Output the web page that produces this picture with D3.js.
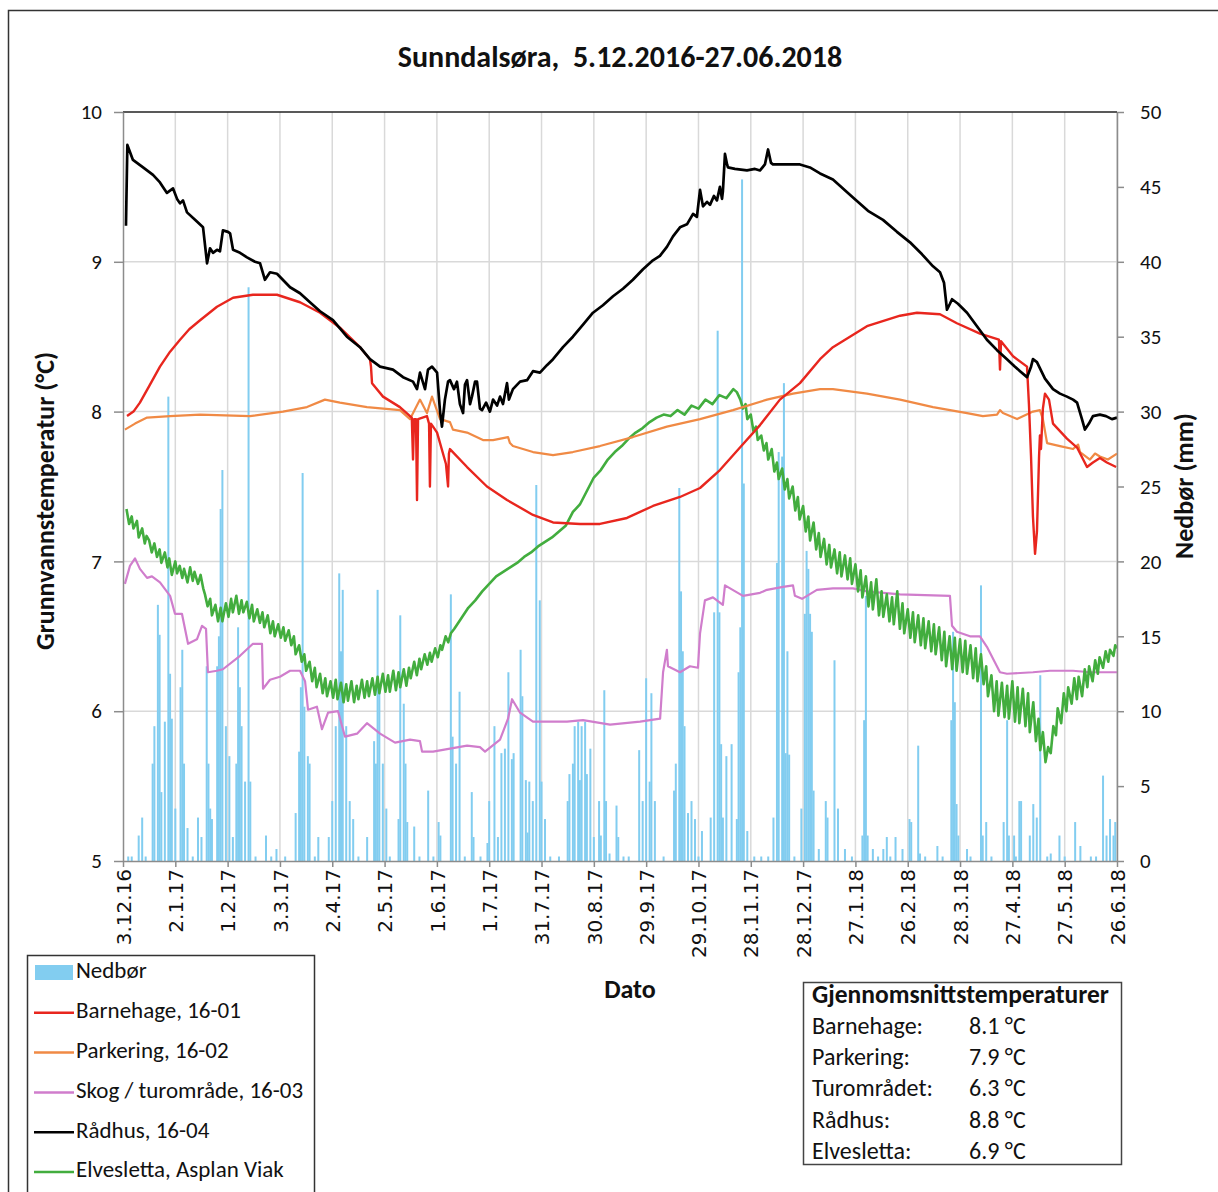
<!DOCTYPE html>
<html>
<head>
<meta charset="utf-8">
<script src="https://cdn.jsdelivr.net/npm/d3@7"></script>
<style>
  html, body { margin: 0; padding: 0; background: #ffffff; }
  svg { display: block; }
  text { font-family: Carlito, Lato, "Open Sans", sans-serif; fill: #111; }
</style>
</head>
<body>
<svg id="chart" width="1218" height="1192"></svg>
<script>
// ---------- DATA (day index counted from 3.12.2016) ----------
const tickLabels = ["3.12.16","2.1.17","1.2.17","3.3.17","2.4.17","2.5.17","1.6.17","1.7.17","31.7.17","30.8.17","29.9.17","29.10.17","28.11.17","28.12.17","27.1.18","26.2.18","28.3.18","27.4.18","27.5.18","26.6.18"];
const tempTicks = [5, 6, 7, 8, 9, 10];
const precipTicks = [0, 5, 10, 15, 20, 25, 30, 35, 40, 45, 50];

// Nedbør (mm) – [day, mm]
const nedbor = [
 [3,0.3],[5,0.3],[9,1.7],[11,2.9],[13,0.3],[17,6.5],[18,9],[20,17.1],[21,15.1],[22,4.6],[24,9.3],[26,31],[27,12.5],[28,9.5],[30,3.5],
 [33,11.6],[34,14.1],[35,6.5],[37,2.2],[40,0.3],[43,2.9],[45,1.6],[48,13],[49,6.5],[50,3.5],[51,2.8],[54,13],[55,15],[56,23.5],[57,26.1],
 [59,9],[61,7],[63,1.6],[65,6.5],[66,15.6],[67,11.6],[68,9],[70,5.3],[72,38.3],[73,5.3],[76,0.3],[82,1.7],[85,0.3],[88,0.8],[93,0.3],
 [99,3.2],[101,7.3],[102,11.6],[103,25.9],[104,10.3],[106,7],[107,6.5],[110,0.3],[112,1.6],[118,1.6],[120,4],[122,9],[124,19.2],[125,14],
 [126,18.1],[128,9],[130,4],[132,2.8],[135,0.3],[140,1.6],[144,8],[145,6.5],[146,18.1],[147,11.6],[149,6.5],[151,3.5],[153,0.3],[158,2.8],
 [159,16.4],[161,10.5],[162,6.5],[163,2.6],[167,2.3],[170,0.3],[175,4.7],[178,0.3],[181,2.6],[182,1.7],[188,17.8],[189,8.3],[191,6.5],
 [193,11.3],[196,0.3],[200,4.6],[201,1.6],[205,0.3],[209,1.2],[210,4],[213,9],[215,1.6],[217,7.2],[219,7.5],[221,12.6],[223,6.8],[224,7.2],
 [228,14.1],[229,11],[231,5.4],[232,1.9],[233,5.3],[235,4],[237,25.1],[239,17.4],[240,5.3],[242,2.8],[245,0.3],[250,0.3],[255,4],[256,5.8],
 [258,6.5],[259,9],[261,9.3],[262,5.4],[263,9],[265,9.3],[266,5.8],[268,7.5],[270,1.6],[273,4],[274,1.7],[276,11.4],[277,4],[279,0.5],
 [283,3.7],[284,1.6],[287,0.3],[290,0.3],[296,7.4],[298,4],[300,12.2],[302,5.3],[303,11.2],[305,4],[310,0.3],[316,4.7],[317,6.5],[319,24.9],
 [320,18],[321,14],[322,9],[324,3.2],[326,4],[328,2.8],[330,0.3],[332,2],[337,2.9],[339,16.6],[341,35.4],[342,16.6],[343,7.8],[344,2.9],
 [346,7],[349,7.8],[352,2.8],[353,12.6],[354,15.6],[355,45.5],[356,25.2],[358,2],[362,0.3],[366,0.3],[370,0.3],[373,2.9],[375,19.9],
 [376,27.3],[378,27],[379,31.9],[380,7.2],[381,14],[382,7.1],[385,0.3],[389,3.5],[391,16.5],[392,20.7],[393,19.5],[394,16.5],[395,15.3],
 [396,4.7],[399,0.8],[403,4],[404,2.9],[408,13.4],[410,3.5],[414,0.8],[418,0.3],[424,1.7],[425,9.4],[426,17.7],[427,1.7],[430,0.8],
 [433,0.3],[436,0.8],[438,1.6],[440,0.3],[443,1.6],[447,0.8],[451,2.8],[452,2.6],[456,7.7],[457,0.5],[460,0.3],[467,1],[470,0.3],
 [475,9.4],[476,15.3],[477,10.6],[478,3.8],[479,1.7],[484,0.8],[486,0.3],[492,18.4],[493,1.7],[495,2.6],[498,0.3],[505,2.6],[507,9.4],
 [508,1.7],[511,1.7],[512,0.3],[514,4],[515,4],[520,1.7],[522,3.8],[524,2.9],[526,12.4],[530,0.3],[532,0.5],[537,1.7],[540,0.3],
 [546,2.6],[549,1],[555,0.3],[558,0.3],[562,5.7],[564,1.7],[566,2.8],[568,1.7],[569,2.6]
];

// Barnehage, 16-01
const barnehage = [
 [2.3,7.97],[6,8.0],[9.7,8.06],[15,8.17],[21.2,8.3],[27,8.4],[32.7,8.48],[38,8.55],[44.2,8.61],[53.9,8.7],[63.1,8.76],[74.5,8.78],[88.3,8.78],[101.5,8.73],[113,8.66],
 [124.4,8.56],[135.9,8.43],[141.6,8.35],[142.2,8.3],[142.8,8.19],[149.1,8.1],[158.8,8.03],[164.6,7.97],[165.6,7.96],[166.3,7.68],
 [166.9,7.95],[168,7.95],[168.6,7.41],[169.2,7.95],[174.3,7.97],[175.5,7.92],[176,7.5],[176.6,7.92],[177.8,7.9],[180.1,7.86],
 [185.2,7.65],[186.4,7.5],[186.9,7.72],[187.5,7.75],[197.3,7.63],[208.7,7.5],[220.2,7.41],[235.1,7.31],[246.6,7.26],[262.1,7.25],
 [273.5,7.25],[289,7.29],[303.9,7.37],[319.4,7.43],[330.9,7.49],[342.3,7.61],[353.8,7.76],[365.3,7.91],[376.7,8.08],[388.2,8.19],
 [399.7,8.35],[407.1,8.43],[426.6,8.57],[445.6,8.64],[455.3,8.66],[468.5,8.65],[478.2,8.59],[491.4,8.52],[502.3,8.48],[502.9,8.28],
 [503.5,8.47],[510.4,8.37],[518.4,8.3],[519.5,8.05],[520.7,7.7],[521.8,7.3],[523,7.05],[524.1,7.2],[525.3,7.7],[525.8,7.84],
 [526.4,7.75],[527.5,8.02],[528.7,8.12],[531,8.08],[533.3,7.92],[541.3,7.82],[547.1,7.76],[552.8,7.63],[556.2,7.66],[560.2,7.69],
 [564.2,7.66],[569.5,7.63]
];

// Parkering, 16-02
const parkering = [
 [1.1,7.88],[6.9,7.92],[13.8,7.96],[27,7.97],[44.2,7.98],[72.8,7.97],[91.7,8.0],[105.5,8.03],[115.8,8.08],[124.4,8.06],[139.9,8.03],
 [158.8,8.01],[164.6,7.95],[170.3,8.08],[174.3,7.99],[177.2,8.1],[181.8,7.95],[187.5,7.93],[189.2,7.88],[197.3,7.86],[206.4,7.81],
 [212.2,7.81],[220.8,7.83],[221.9,7.79],[223.6,7.77],[235.1,7.73],[246.6,7.71],[258,7.73],[273.5,7.77],[292.4,7.83],[311.9,7.9],
 [330.9,7.95],[349.8,8.01],[369.3,8.08],[384.2,8.12],[399.7,8.15],[407.1,8.15],[426.6,8.12],[445.6,8.08],[464.5,8.03],[484,7.99],
 [493.1,7.97],[501.2,7.98],[502.9,8.01],[504.6,7.99],[512.7,7.95],[521.8,8.0],[525.8,8.01],[527.5,7.95],[529.9,7.79],[537.3,7.77],
 [544.8,7.75],[547.7,7.78],[548.8,7.73],[554.5,7.68],[557.4,7.72],[560.2,7.7],[564.8,7.68],[570,7.72]
];

// Skog / turområde, 16-03
const skog = [
 [1.1,6.85],[4,6.97],[6.9,7.02],[9.7,6.95],[13.8,6.89],[16.6,6.9],[21.2,6.86],[27,6.77],[29.8,6.65],[33.8,6.65],[37.3,6.45],
 [42.4,6.48],[45.3,6.57],[47.6,6.55],[48.7,6.26],[53.9,6.27],[57.3,6.28],[67.1,6.37],[74.5,6.45],[79.7,6.45],[80.3,6.15],[84.3,6.21],
 [90,6.23],[95.8,6.27],[101.5,6.27],[104.4,6.2],[106.1,6.01],[111.2,6.03],[114.1,5.88],[117.6,5.99],[123.3,6.0],[127.3,5.83],
 [134.2,5.85],[139.9,5.92],[147.4,5.85],[156,5.79],[164.6,5.81],[170.3,5.8],[171.5,5.73],[177.8,5.73],[187.5,5.75],[197.3,5.77],
 [204.7,5.76],[207.6,5.73],[216.2,5.81],[220.8,5.95],[223.1,6.08],[227.7,5.99],[235.1,5.93],[254.6,5.93],[263.8,5.94],[279.3,5.91],
 [296.5,5.93],[308,5.95],[309.7,6.26],[311.9,6.41],[312.5,6.3],[319.4,6.26],[325.1,6.3],[329.7,6.29],[330.9,6.52],[333.7,6.74],
 [338.3,6.76],[344,6.71],[345.2,6.84],[355.5,6.77],[365.3,6.79],[369.3,6.81],[378.5,6.83],[384.2,6.84],[385.3,6.77],[389.4,6.75],
 [397.9,6.81],[407.1,6.82],[418.6,6.82],[426.6,6.8],[445.6,6.78],[474.2,6.77],[475.4,6.57],[478.2,6.53],[485.7,6.5],[491.4,6.5],
 [495.4,6.43],[502.9,6.26],[506.9,6.25],[521.8,6.26],[531.6,6.27],[544.8,6.27],[554.5,6.26],[570,6.26]
];

// Rådhus, 16-04
const radhus = [
 [1.7,9.24],[2.5,9.78],[5.7,9.68],[11.5,9.63],[17.2,9.58],[21.2,9.53],[22.9,9.5],[25.2,9.46],[28.7,9.49],[31,9.42],[32.7,9.39],
 [34.4,9.41],[36.7,9.33],[41.3,9.28],[45.9,9.23],[48.2,8.99],[49.9,9.09],[51.6,9.06],[53.9,9.08],[55.6,9.07],[57.3,9.21],[60.2,9.2],
 [61.4,9.19],[63.1,9.08],[67.1,9.06],[71.1,9.03],[75.7,9.0],[78.6,8.99],[81.4,8.88],[84.3,8.93],[88.3,8.92],[95.8,8.83],[101.5,8.79],
 [107.2,8.73],[113,8.67],[120.4,8.61],[128.4,8.5],[135.9,8.43],[141.6,8.35],[147.4,8.3],[154.8,8.28],[160.6,8.23],[166.3,8.2],
 [168.6,8.15],[170.3,8.26],[173.2,8.15],[174.9,8.28],[177.2,8.3],[180.1,8.26],[181.8,8.0],[182.9,7.9],[184.6,8.08],[186.4,8.2],
 [187.5,8.21],[189.8,8.15],[191.5,8.2],[193.2,8.05],[195,7.99],[196.1,8.18],[197.3,8.21],[199,8.05],[200.1,8.1],[201.9,8.2],[203,8.2],
 [204.7,8.02],[205.9,8.01],[208.2,8.06],[210.4,8.0],[212.2,8.08],[214.5,8.04],[216.2,8.1],[217.9,8.05],[220.2,8.19],[221.3,8.08],
 [223.6,8.15],[227.7,8.2],[231.7,8.21],[235.1,8.27],[239.1,8.26],[243.1,8.31],[246.6,8.35],[252.3,8.43],[258,8.5],[263.8,8.58],
 [269.5,8.66],[275.2,8.71],[281,8.77],[286.7,8.82],[292.4,8.88],[298.2,8.95],[303.9,9.01],[307.9,9.04],[311.9,9.1],[315.4,9.17],
 [319.4,9.23],[323.4,9.25],[326.9,9.32],[329.1,9.3],[330.9,9.48],[332.6,9.37],[334.9,9.4],[336.6,9.38],[338.9,9.44],[340.6,9.41],
 [342.3,9.5],[343.5,9.42],[344,9.47],[345.2,9.72],[346.4,9.65],[346.9,9.63],[350.9,9.62],[357.8,9.61],[362.4,9.62],[365.3,9.61],
 [368.1,9.65],[369.9,9.75],[371.6,9.66],[372.7,9.65],[384.2,9.65],[388.2,9.65],[393.9,9.63],[399.7,9.59],[407.1,9.55],[418.6,9.43],
 [427.2,9.34],[435.8,9.28],[443.8,9.2],[451.3,9.13],[458.2,9.05],[464.5,8.97],[468.5,8.93],[470.8,8.86],[472.5,8.68],[474.2,8.72],
 [475.4,8.75],[478.8,8.72],[484,8.66],[489.7,8.57],[495.4,8.48],[501.2,8.41],[506.9,8.35],[511.5,8.3],[514.4,8.27],[518.4,8.23],
 [520.7,8.3],[521.8,8.35],[524.1,8.33],[528.7,8.22],[533.3,8.15],[537.3,8.12],[541.3,8.1],[544.8,8.08],[547.1,8.06],[549.9,7.95],
 [551.6,7.88],[553.9,7.92],[556.2,7.97],[560.2,7.98],[563.7,7.97],[567.1,7.95],[570,7.96]
];

// Elvesletta, Asplan Viak (noisy logger series, read point by point)
const elvesletta = [
 [2,7.35],[3.5,7.25],[5,7.3],[6,7.22],[8,7.27],[9,7.16],[11,7.22],[12.5,7.12],[13.5,7.17],[15,7.14],[16.5,7.06],[18,7.12],[19.5,7.03],
 [21,7.08],[22,6.99],[24,7.06],[25.5,6.96],[26.5,7.02],[28,6.91],[30,7.0],[31,6.92],[32.5,6.97],[34,6.89],[35,6.95],[37,6.86],[38.5,6.96],
 [40,6.87],[41,6.93],[43,6.85],[44.5,6.91],[46,6.82],[47,6.78],[48.5,6.7],[50,6.75],[51,6.64],[53,6.71],[54.5,6.6],[56,6.69],[57,6.6],
 [59,6.72],[60.5,6.63],[62,6.75],[63,6.66],[65,6.77],[66.5,6.65],[68,6.74],[69,6.66],[71,6.73],[72.5,6.62],[74,6.71],[75,6.6],[77,6.68],
 [78.5,6.59],[80,6.66],[81,6.56],[83,6.64],[84.5,6.52],[86,6.6],[87,6.5],[89,6.58],[90.5,6.49],[92,6.56],[93,6.47],[95,6.54],[96.5,6.44],
 [98,6.5],[99,6.38],[101,6.44],[102.5,6.33],[104,6.38],[105,6.27],[107,6.33],[108.5,6.2],[110,6.29],[111,6.16],[113,6.25],[114.5,6.12],
 [116,6.22],[117,6.1],[119,6.2],[120.5,6.09],[122,6.21],[123,6.08],[125,6.19],[126.5,6.06],[128,6.18],[129,6.07],[131,6.2],[132.5,6.06],
 [134,6.17],[135,6.08],[137,6.21],[138.5,6.09],[140,6.2],[141,6.1],[143,6.22],[144.5,6.11],[146,6.23],[147,6.12],[149,6.25],[150.5,6.13],
 [152,6.24],[153,6.13],[155,6.27],[156.5,6.14],[158,6.26],[159,6.16],[161,6.28],[162.5,6.17],[164,6.29],[165,6.22],[167,6.33],[168.5,6.24],
 [170,6.35],[171,6.28],[173,6.38],[174.5,6.31],[176,6.39],[177,6.33],[179,6.42],[180.5,6.36],[182,6.44],[183,6.41],[185,6.5],[186.5,6.46],
 [188,6.52],[190,6.55],
 [194,6.62],[198,6.69],[202,6.74],[206,6.8],[210,6.85],[214,6.9],[218,6.93],[222,6.96],[226,6.99],[230,7.03],[234,7.06],[238,7.1],
 [242,7.13],[246,7.16],[250,7.2],[254,7.24],[258,7.33],[262,7.38],[266,7.47],[270,7.56],[274,7.61],[278,7.68],[282,7.73],[286,7.77],
 [290,7.82],[294,7.86],[298,7.89],[302,7.93],[306,7.96],[310,7.98],[314,7.97],[318,8.01],[322,7.98],[326,8.04],[330,8.02],[334,8.08],
 [338,8.05],[342,8.11],[346,8.09],[350,8.15],[352,8.13],
 [354,8.08],[355.5,8.02],[357,8.05],[358,7.95],[360,7.98],[361.5,7.87],[363,7.9],[364,7.81],[366,7.84],[367.5,7.74],[369,7.79],[370,7.68],
 [372,7.75],[373.5,7.6],[375,7.66],[376,7.55],[378,7.62],[379.5,7.48],[381,7.55],[382,7.42],[384,7.5],[385.5,7.34],[387,7.43],[388,7.28],
 [390,7.37],[391.5,7.2],[393,7.3],[394,7.14],[396,7.26],[397.5,7.08],[399,7.19],[400,7.03],[402,7.15],[403.5,6.98],[405,7.11],[406,6.96],
 [408,7.08],[409.5,6.92],[411,7.06],[412,6.9],[414,7.04],[415.5,6.88],[417,7.02],[418,6.85],[420,6.98],[421.5,6.8],[423,6.94],[424,6.76],
 [426,6.9],[427.5,6.7],[429,6.86],[430,6.68],[432,6.88],[433.5,6.64],[435,6.8],[436,6.63],[438,6.78],[439.5,6.6],[441,6.76],[442,6.58],
 [444,6.8],[445.5,6.55],[447,6.72],[448,6.52],[450,6.68],[451.5,6.49],[453,6.66],[454,6.46],[456,6.64],[457.5,6.44],[459,6.62],[460,6.42],
 [462,6.6],[463.5,6.4],[465,6.58],[466,6.38],[468,6.56],[469.5,6.34],[471,6.53],[472,6.3],[474,6.5],[475.5,6.28],[477,6.49],[478,6.27],
 [480,6.48],[481.5,6.26],[483,6.47],[484,6.25],[486,6.44],[487.5,6.22],[489,6.42],[490,6.2],[492,6.38],[493.5,6.18],[495,6.3],[496,6.1],
 [498,6.24],[499.5,6.0],[501,6.2],[502,5.97],[504,6.19],[505.5,5.96],[507,6.17],[508,5.95],[510,6.2],[511.5,5.93],[513,6.16],[514,5.92],
 [516,6.15],[517.5,5.9],[519,6.12],[520,5.86],[522,6.06],[523.5,5.8],[525,5.95],[526,5.74],[527.5,5.86],[529,5.66],[530.5,5.76],[532,5.72],
 [533.5,5.9],[535,5.84],[536,6.02],[538,5.92],[539.5,6.12],[541,6.0],[542,6.16],[544,6.05],[545.5,6.22],[547,6.08],[548,6.23],[550,6.1],
 [551.5,6.28],[553,6.16],[554,6.3],[556,6.2],[557.5,6.34],[559,6.25],[560,6.36],[562,6.29],[563.5,6.4],[565,6.33],[566,6.41],[568,6.37],
 [569,6.44],[570,6.42]
];

const series = [
  { name: "Skog / turområde, 16-03", data: skog, color: "#d07dcc", width: 2.2 },
  { name: "Elvesletta, Asplan Viak", data: elvesletta, color: "#42ad3e", width: 2.6 },
  { name: "Parkering, 16-02", data: parkering, color: "#f08a45", width: 2.2 },
  { name: "Barnehage, 16-01", data: barnehage, color: "#e8261e", width: 2.4 },
  { name: "Rådhus, 16-04", data: radhus, color: "#000000", width: 2.7 }
];
const legendOrder = ["Barnehage, 16-01", "Parkering, 16-02", "Skog / turområde, 16-03", "Rådhus, 16-04", "Elvesletta, Asplan Viak"];
const avgLabels = ["Barnehage:", "Parkering:", "Turområdet:", "Rådhus:", "Elvesletta:"];
const avgValues = ["8.1 °C", "7.9 °C", "6.3 °C", "8.8 °C", "6.9 °C"];
const barColor = "#82cdf0";

// ---------- DRAWING ----------
const svg = d3.select("#chart");
const L = 123, R = 1117, T = 112, B = 861;

const x = d3.scaleLinear().domain([0, 570]).range([L, R]);
const yT = d3.scaleLinear().domain([5, 10]).range([B, T]);
const yP = d3.scaleLinear().domain([0, 50]).range([B, T]);
const xTicks = tickLabels.map((_, i) => i * 30);

// outer frame
svg.append("rect").attr("x", 8.5).attr("y", 10.5).attr("width", 1230).attr("height", 1200)
  .attr("fill", "none").attr("stroke", "#333").attr("stroke-width", 1.5);

// title
svg.append("text").attr("x", 620).attr("y", 60).attr("text-anchor", "middle")
  .attr("dominant-baseline", "middle")
  .style("font-size", "30px").style("font-weight", "bold")
  .attr("xml:space", "preserve")
  .text("Sunndalsøra,  5.12.2016-27.06.2018");

// gridlines
const grid = svg.append("g");
grid.selectAll("line.v").data(xTicks.slice(1)).join("line")
  .attr("x1", d => x(d)).attr("x2", d => x(d)).attr("y1", T).attr("y2", B)
  .attr("stroke", "#d9d9d9").attr("stroke-width", 1.5);
grid.selectAll("line.h").data(tempTicks.slice(1, -1)).join("line")
  .attr("x1", L).attr("x2", R).attr("y1", d => yT(d)).attr("y2", d => yT(d))
  .attr("stroke", "#d9d9d9").attr("stroke-width", 1.5);

// precipitation bars
svg.append("g").selectAll("rect").data(nedbor).join("rect")
  .attr("x", d => x(d[0]) - 1).attr("width", 2)
  .attr("y", d => yP(d[1])).attr("height", d => yP(0) - yP(d[1]))
  .attr("fill", barColor);

// lines
const line = d3.line().x(d => x(d[0])).y(d => yT(d[1]));
svg.append("g").selectAll("path").data(series).join("path")
  .attr("d", d => line(d.data)).attr("fill", "none")
  .attr("stroke", d => d.color).attr("stroke-width", d => d.width)
  .attr("stroke-linejoin", "round");

// plot top border
svg.append("line").attr("x1", L).attr("x2", R).attr("y1", T).attr("y2", T)
  .attr("stroke", "#222").attr("stroke-width", 1.5);

// axes
function styleAxis(g) {
  g.select(".domain").attr("stroke", "#8c8c8c").attr("stroke-width", 1.5);
  g.selectAll(".tick line").attr("stroke", "#8c8c8c").attr("stroke-width", 1.5);
  g.selectAll("text").style("font-family", "Carlito, Lato, sans-serif").attr("fill", "#111");
}
const axL = svg.append("g").attr("transform", `translate(${L},0)`)
  .call(d3.axisLeft(yT).tickValues(tempTicks).tickFormat(d3.format("d")).tickSize(9).tickPadding(12).tickSizeOuter(0));
styleAxis(axL); axL.selectAll("text").style("font-size", "21px");

const axR = svg.append("g").attr("transform", `translate(${R},0)`)
  .call(d3.axisRight(yP).tickValues(precipTicks).tickFormat(d3.format("d")).tickSize(7).tickPadding(16).tickSizeOuter(0));
styleAxis(axR); axR.selectAll("text").style("font-size", "21px");

const axB = svg.append("g").attr("transform", `translate(0,${B})`)
  .call(d3.axisBottom(x).tickValues(xTicks).tickFormat((d, i) => tickLabels[i]).tickSize(6).tickSizeOuter(0));
styleAxis(axB);
axB.selectAll("text")
  .attr("transform", "rotate(-90)").attr("text-anchor", "end")
  .attr("x", -8).attr("y", 0).attr("dy", "0.36em")
  .style("font-family", "'DejaVu Sans', Verdana, sans-serif").style("font-size", "20px");

// axis titles
svg.append("text").attr("transform", "translate(48,501) rotate(-90)")
  .attr("text-anchor", "middle").attr("dominant-baseline", "middle")
  .style("font-size", "26px").style("font-weight", "bold").text("Grunnvannstemperatur (°C)");
svg.append("text").attr("transform", "translate(1187,486) rotate(-90)")
  .attr("text-anchor", "middle").attr("dominant-baseline", "middle")
  .style("font-size", "26px").style("font-weight", "bold").text("Nedbør (mm)");
svg.append("text").attr("x", 630).attr("y", 992).attr("text-anchor", "middle")
  .attr("dominant-baseline", "middle")
  .style("font-size", "26px").style("font-weight", "bold").text("Dato");

// legend
const lg = svg.append("g");
lg.append("rect").attr("x", 27.5).attr("y", 955.5).attr("width", 287).attr("height", 250)
  .attr("fill", "#fff").attr("stroke", "#333").attr("stroke-width", 1.5);
const legendRows = [{ name: "Nedbør", bar: true }].concat(
  legendOrder.map(n => ({ name: n, color: series.find(s => s.name === n).color })));
legendRows.forEach((r, i) => {
  const cy = 973 + i * 39.8;
  if (r.bar) {
    lg.append("rect").attr("x", 35).attr("y", cy - 8).attr("width", 38).attr("height", 15).attr("fill", barColor);
  } else {
    lg.append("line").attr("x1", 34).attr("x2", 74).attr("y1", cy).attr("y2", cy)
      .attr("stroke", r.color).attr("stroke-width", 2.5);
  }
  lg.append("text").attr("x", 76).attr("y", cy).attr("dominant-baseline", "middle")
    .style("font-size", "23px").text(r.name);
});

// average box
const ab = svg.append("g");
ab.append("rect").attr("x", 803.5).attr("y", 982.5).attr("width", 318).attr("height", 182)
  .attr("fill", "#fff").attr("stroke", "#444").attr("stroke-width", 1.5);
ab.append("text").attr("x", 812).attr("y", 997).attr("dominant-baseline", "middle")
  .style("font-size", "25.5px").style("font-weight", "bold").text("Gjennomsnittstemperaturer");
avgLabels.forEach((t, i) => {
  const cy = 1028 + i * 31.3;
  ab.append("text").attr("x", 812).attr("y", cy).attr("dominant-baseline", "middle")
    .style("font-size", "24px").text(t);
  ab.append("text").attr("x", 969).attr("y", cy).attr("dominant-baseline", "middle")
    .style("font-size", "24px").text(avgValues[i]);
});
</script>
</body>
</html>
